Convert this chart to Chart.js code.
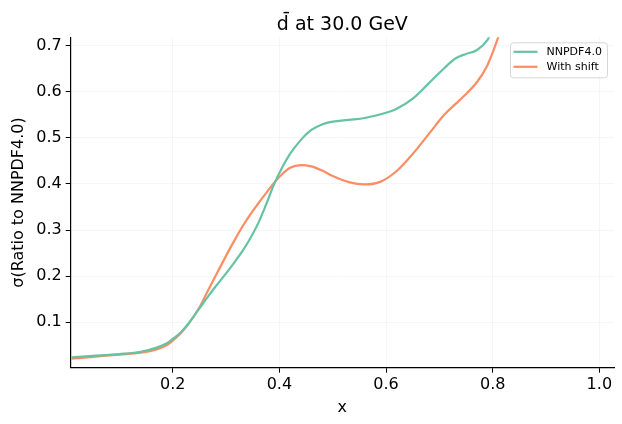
<!DOCTYPE html>
<html>
<head>
<meta charset="utf-8">
<script src="https://cdn.jsdelivr.net/npm/chart.js@4.4.0/dist/chart.umd.min.js"></script>
<style>
  html, body { margin: 0; padding: 0; background: #fff; }
  #wrap { width: 622px; height: 424px; }
</style>
</head>
<body>
<div id="wrap"><canvas id="ratioChart" width="622" height="424"></canvas></div>
<script>
const chartTitle = 'd\u0304 at 30.0 GeV';
const seriesLabels = ['NNPDF4.0', 'With shift'];
const seriesColors = ['#66c2a5', '#fc8d62'];

const xValues = [0.01, 0.05, 0.10, 0.14, 0.17, 0.19, 0.20, 0.215, 0.23, 0.25, 0.265, 0.28, 0.30, 0.315,
  0.33, 0.345, 0.36, 0.375, 0.39, 0.405, 0.42, 0.44, 0.46, 0.48, 0.50, 0.53, 0.56, 0.59, 0.62,
  0.65, 0.68, 0.71, 0.73, 0.75, 0.77, 0.79, 0.80, 0.82];

const nnpdfValues = [0.024, 0.027, 0.031, 0.036, 0.045, 0.055, 0.064, 0.078, 0.098, 0.130, 0.154, 0.177, 0.206, 0.229,
  0.253, 0.281, 0.314, 0.355, 0.399, 0.435, 0.465, 0.495, 0.517, 0.529, 0.535, 0.539, 0.543, 0.551, 0.563,
  0.585, 0.618, 0.652, 0.672, 0.682, 0.690, 0.712, 0.735, 0.780];

const shiftValues = [0.021, 0.025, 0.030, 0.034, 0.041, 0.051, 0.060, 0.076, 0.097, 0.132, 0.166, 0.200, 0.244, 0.276,
  0.306, 0.333, 0.357, 0.380, 0.402, 0.421, 0.435, 0.441, 0.438, 0.429, 0.417, 0.404, 0.399, 0.405, 0.428,
  0.465, 0.508, 0.551, 0.573, 0.595, 0.620, 0.657, 0.685, 0.750];

const xTicks = [0.2, 0.4, 0.6, 0.8, 1.0];
const yTicks = [0.1, 0.2, 0.3, 0.4, 0.5, 0.6, 0.7];

Chart.defaults.font.family = "'DejaVu Sans', sans-serif";
Chart.defaults.color = '#000';

function toPoints(ys) {
  return xValues.map((x, i) => ({ x: x, y: ys[i] }));
}

// title centred over the plot area plus a matplotlib-like legend box
const overlayPlugin = {
  id: 'overlay',
  afterDraw(chart) {
    const ctx = chart.ctx;
    const area = chart.chartArea;
    ctx.save();
    ctx.fillStyle = '#000';
    ctx.font = "19px 'DejaVu Sans'";
    ctx.textAlign = 'center';
    ctx.textBaseline = 'alphabetic';
    ctx.fillText(chartTitle, (area.left + area.right) / 2, 30);

    const boxW = 97, boxH = 35;
    const boxX = area.right - 6.5 - boxW;
    const boxY = area.top + 5.5;
    ctx.beginPath();
    ctx.roundRect(boxX, boxY, boxW, boxH, 3);
    ctx.fillStyle = 'rgba(255,255,255,0.8)';
    ctx.fill();
    ctx.strokeStyle = '#d6d6d6';
    ctx.lineWidth = 1;
    ctx.stroke();

    ctx.font = "11px 'DejaVu Sans'";
    ctx.textAlign = 'left';
    ctx.textBaseline = 'middle';
    chart.data.datasets.forEach((ds, i) => {
      const y = boxY + 9 + i * 15;
      ctx.beginPath();
      ctx.moveTo(boxX + 3, y);
      ctx.lineTo(boxX + 27, y);
      ctx.strokeStyle = ds.borderColor;
      ctx.lineWidth = 2.2;
      ctx.stroke();
      ctx.fillStyle = '#000';
      ctx.fillText(ds.label, boxX + 36, y + 0.5);
    });
    ctx.restore();
  }
};

const ctx = document.getElementById('ratioChart').getContext('2d');
const ratioChart = new Chart(ctx, {
  type: 'line',
  data: {
    datasets: [{
      label: seriesLabels[0],
      data: toPoints(nnpdfValues),
      borderColor: seriesColors[0],
      borderWidth: 2.2,
      pointRadius: 0,
      cubicInterpolationMode: 'monotone',
      fill: false
    }, {
      label: seriesLabels[1],
      data: toPoints(shiftValues),
      borderColor: seriesColors[1],
      borderWidth: 2.2,
      pointRadius: 0,
      cubicInterpolationMode: 'monotone',
      fill: false
    }]
  },
  options: {
    responsive: false,
    animation: false,
    layout: {
      padding: { top: 37.3, right: 8, bottom: 0, left: 0 }
    },
    plugins: {
      legend: { display: false },
      title: { display: false },
      tooltip: { enabled: false }
    },
    scales: {
      x: {
        type: 'linear',
        min: 0.0087,
        max: 1.0275,
        afterBuildTicks: (axis) => { axis.ticks = xTicks.map(v => ({ value: v })); },
        afterFit: (axis) => { axis.height = 56.3; },
        ticks: {
          font: { size: 16 },
          padding: 3,
          maxRotation: 0,
          callback: (value) => value.toFixed(1)
        },
        grid: {
          color: 'rgba(0,0,0,0.035)',
          tickColor: '#000',
          tickLength: 5,
          tickWidth: 1
        },
        border: { display: true, color: '#000', width: 1.2 },
        title: {
          display: true,
          text: 'x',
          font: { size: 16 },
          padding: { top: 0, bottom: 7 }
        }
      },
      y: {
        type: 'linear',
        min: 0.0015,
        max: 0.718,
        afterBuildTicks: (axis) => { axis.ticks = yTicks.map(v => ({ value: v })); },
        afterFit: (axis) => { axis.width = 70.7; },
        ticks: {
          font: { size: 16 },
          padding: 4,
          callback: (value) => value.toFixed(1)
        },
        grid: {
          color: 'rgba(0,0,0,0.035)',
          tickColor: '#000',
          tickLength: 5,
          tickWidth: 1
        },
        border: { display: true, color: '#000', width: 1.2 },
        title: {
          display: true,
          text: 'σ(Ratio to NNPDF4.0)',
          font: { size: 16 },
          padding: { top: 9, bottom: 0 }
        }
      }
    }
  },
  plugins: [overlayPlugin]
});
</script>
</body>
</html>
